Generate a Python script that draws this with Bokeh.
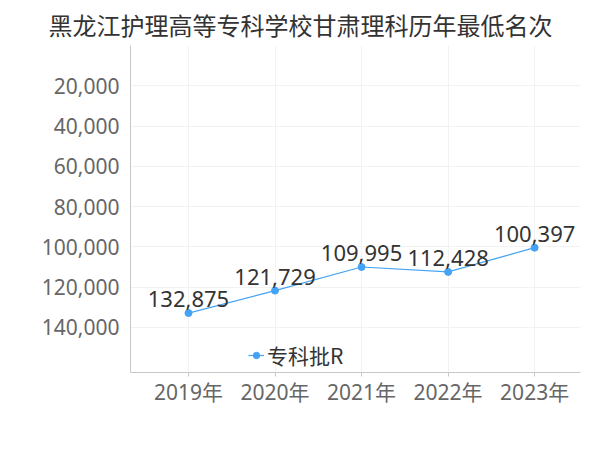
from bokeh.plotting import figure
from bokeh.models import Range1d, FixedTicker, NumeralTickFormatter, Legend, LegendItem, ColumnDataSource
from bokeh.embed import file_html
from bokeh.resources import INLINE
from bokeh.core.properties import value

years = [2019, 2020, 2021, 2022, 2023]
year_labels = ["2019年", "2020年", "2021年", "2022年", "2023年"]
ranks = [132875, 121729, 109995, 112428, 100397]
rank_labels = ["132,875", "121,729", "109,995", "112,428", "100,397"]
y_ticks = [20000, 40000, 60000, 80000, 100000, 120000, 140000]
series_name = "专科批R"
title_text = "黑龙江护理高等专科学校甘肃理科历年最低名次"

FONT = "Noto Sans, Noto Sans CJK SC"
CJK = "Noto Sans CJK SC"
BLUE = "#45a3f5"

src = ColumnDataSource(dict(x=years, y=ranks, lab=rank_labels))

p = figure(width=584, height=434, output_backend="svg", toolbar_location=None,
           x_range=Range1d(2019 - 0.67, 2023 + 0.53),
           y_range=Range1d(162400, 0),
           frame_width=450, frame_height=327,
           min_border_left=130, min_border_right=4, min_border_top=45, min_border_bottom=0)

p.outline_line_color = None
p.background_fill_color = "white"

p.title.text = title_text
p.title.text_font = CJK
p.title.text_font_size = "24px"
p.title.text_font_style = "normal"
p.title.text_color = "#333333"
p.title.align = "left"
p.title.offset = -82
p.title.standoff = 8

# axes
p.xaxis.ticker = FixedTicker(ticks=years)
p.xaxis.major_label_overrides = {y: l for y, l in zip(years, year_labels)}
p.xaxis.major_label_text_font = FONT
p.xaxis.major_label_text_font_size = "21px"
p.xaxis.major_label_text_color = "#666666"
p.xaxis.axis_line_color = "#c8c8c8"
p.xaxis.major_tick_line_color = "#c8c8c8"
p.xaxis.major_tick_in = 0
p.xaxis.major_tick_out = 4
p.xaxis.minor_tick_line_color = None
p.xaxis.major_label_standoff = 1

p.yaxis.ticker = FixedTicker(ticks=y_ticks)
p.yaxis.formatter = NumeralTickFormatter(format="0,0")
p.yaxis.major_label_text_font = FONT
p.yaxis.major_label_text_font_size = "21px"
p.yaxis.major_label_text_color = "#666666"
p.yaxis.axis_line_color = "#c8c8c8"
p.yaxis.major_tick_line_color = None
p.yaxis.minor_tick_line_color = None
p.yaxis.major_label_standoff = 5

p.xgrid.ticker = FixedTicker(ticks=years)
p.xgrid.grid_line_color = "#f2f2f2"
p.ygrid.grid_line_color = "#f2f2f2"

r_line = p.line("x", "y", source=src, line_color=BLUE, line_width=1.2)
r_pts = p.scatter("x", "y", source=src, size=7, fill_color=BLUE, line_color=BLUE)
p.text("x", "y", text="lab", source=src, text_font=value(FONT), text_font_size="22px",
       text_color="#333333", text_align="center", text_baseline="bottom", y_offset=-6)

legend = Legend(items=[LegendItem(label=series_name, renderers=[r_line, r_pts])],
                orientation="horizontal", location=(118, 2),
                label_text_font=CJK, label_text_font_size="21px", label_text_color="#333333",
                glyph_width=16, glyph_height=16, label_standoff=3,
                padding=0, margin=2, spacing=0,
                border_line_color=None, background_fill_alpha=0)
p.add_layout(legend, "center")

open("out.html", "w").write(file_html(p, INLINE))
